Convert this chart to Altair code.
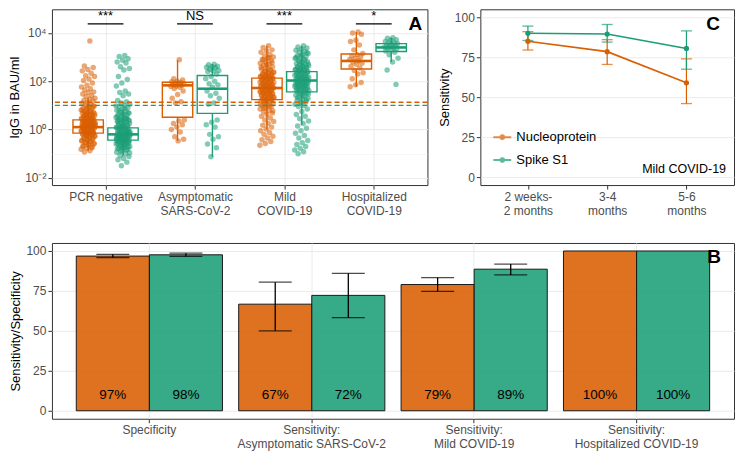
import json
import altair as alt
import pandas as pd

FONT = "Liberation Sans"
N_COL = "#D95F02"
S_COL = "#1B9E77"
antigens = ["Nucleoprotein", "Spike S1"]
colors = [N_COL, S_COL]

# ---------------- Panel A data (log10 IgG, BAU/ml) ----------------
groups_a = ["PCR negative", "Asymptomatic\nSARS-CoV-2", "Mild\nCOVID-19", "Hospitalized\nCOVID-19"]

pcr_n = [3.67, 2.63, 2.57, 2.49, 2.43, 2.33, 2.23, 2.20, 2.09, 2.03, 1.93, 1.83, 1.76, 1.69, 1.64, 1.56,
         1.53, 1.47, 1.40, 1.37, 1.30, 1.26, 1.21, 1.17, 1.12, 1.09, 1.05, 1.01, 0.97, 0.94, 0.91, 0.87,
         0.85, 0.81, 0.78, 0.76, 0.72, 0.69, 0.67, 0.64, 0.61, 0.58, 0.56, 0.53, 0.50, 0.48, 0.45, 0.43,
         0.40, 0.38, 0.35, 0.33, 0.31, 0.28, 0.26, 0.23, 0.21, 0.19, 0.16, 0.14, 0.12, 0.09, 0.07, 0.05,
         0.02, 0.00, -0.03, -0.05, -0.08, -0.10, -0.13, -0.15, -0.18, -0.21, -0.24, -0.27, -0.30, -0.33,
         -0.37, -0.41, -0.45, -0.49, -0.53, -0.57, -0.62, -0.67, -0.72, -0.77, -0.82, -0.88, -0.93,
         0.95, 0.88, 0.80, 0.74, 0.70, 0.65, 0.60, 0.57, 0.54, 0.51, 0.47, 0.44, 0.41, 0.37, 0.34, 0.32,
         0.29, 0.27, 0.24, 0.22, 0.20, 0.17, 0.15, 0.13, 0.11, 0.08, 0.06, 0.04, 0.01, -0.01, -0.04,
         -0.06, -0.09, -0.11, -0.14, -0.17, -0.19, -0.22, -0.25, -0.28, -0.31, -0.35, -0.39, -0.43,
         -0.47, -0.51, -0.55, -0.60, -0.65, -0.70, -0.75, 0.30, 0.18, 0.05, -0.02, -0.12, -0.20, 0.25,
         0.45, 0.62]
pcr_s = [3.07, 3.03, 2.93, 2.87, 2.80, 2.76, 2.60, 2.53, 2.47, 2.20, 2.07, 1.93, 1.80, 1.60, 1.53, 1.47,
         1.40, 1.20, 1.15, 1.10, 1.05, 1.00, 0.95, 0.90, 0.85, 0.80, 0.76, 0.72, 0.68, 0.64, 0.60, 0.56,
         0.53, 0.50, 0.46, 0.43, 0.40, 0.37, 0.34, 0.31, 0.28, 0.25, 0.22, 0.19, 0.16, 0.13, 0.10, 0.08,
         0.05, 0.03, 0.00, -0.02, -0.05, -0.07, -0.10, -0.12, -0.15, -0.17, -0.20, -0.22, -0.25, -0.27,
         -0.30, -0.32, -0.35, -0.37, -0.40, -0.43, -0.46, -0.49, -0.52, -0.55, -0.58, -0.62, -0.66, -0.70,
         -0.74, -0.78, -0.83, -0.88, -0.94, -1.00, -1.08, -1.12, -1.20, -1.25, -1.35, -1.50,
         0.98, 0.88, 0.78, 0.70, 0.62, 0.55, 0.48, 0.42, 0.36, 0.30, 0.24, 0.18, 0.12, 0.07, 0.02, -0.03,
         -0.08, -0.11, -0.14, -0.18, -0.21, -0.24, -0.26, -0.29, -0.31, -0.34, -0.36, -0.39, -0.42,
         -0.45, -0.48, -0.51, -0.54, -0.57, -0.60, -0.64, -0.68, -0.72, -0.76, -0.80, -0.85, -0.90,
         -0.96, -0.15, -0.25, -0.05, 0.15, -0.35, -0.45, 0.05, -0.55, -0.65, 0.35, 0.45, -0.28, -0.18]
asym_n = [2.89, 2.10, 2.05, 2.00, 1.98, 1.95, 1.92, 1.90, 1.88, 1.85, 1.82, 1.80, 1.78, 1.75, 1.70,
          1.60, 1.45, 1.30, 1.15, 1.10, 0.40, 0.35, 0.25, 0.20, 0.10, 0.00, -0.10, -0.30, -0.40, -0.47]
asym_s = [2.70, 2.68, 2.62, 2.60, 2.58, 2.55, 2.50, 2.45, 2.42, 2.40, 2.30, 2.20, 2.10, 2.00, 1.90,
          1.85, 1.75, 1.60, 1.50, 1.40, 1.30, 1.10, 1.05, 0.40, 0.30, 0.20, 0.10, -0.20, -0.30, -0.40,
          -0.60, -0.75, -1.13]
mild_n = [3.47, 3.40, 3.30, 3.25, 3.20, 3.10, 3.05, 3.00, 2.95, 2.90, 2.85, 2.80, 2.75, 2.70, 2.65,
          2.60, 2.55, 2.50, 2.46, 2.42, 2.38, 2.34, 2.30, 2.27, 2.24, 2.21, 2.18, 2.15, 2.12, 2.09,
          2.06, 2.03, 2.00, 1.97, 1.94, 1.91, 1.88, 1.85, 1.82, 1.79, 1.76, 1.73, 1.70, 1.67, 1.64,
          1.61, 1.58, 1.55, 1.52, 1.49, 1.46, 1.43, 1.40, 1.37, 1.34, 1.31, 1.28, 1.25, 1.22, 1.19,
          1.15, 1.11, 1.07, 1.03, 0.99, 0.95, 0.90, 0.85, 0.80, 0.74, 0.68, 0.62, 0.55, 0.48, 0.40,
          0.33, 0.25, 0.18, 0.10, 0.02, -0.05, -0.12, -0.20, -0.28, -0.35, -0.42, -0.50, -0.58, -0.65,
          2.98, 2.88, 2.78, 2.68, 2.58, 2.48, 2.40, 2.36, 2.32, 2.28, 2.25, 2.22, 2.19, 2.16, 2.13,
          2.10, 2.07, 2.04, 2.01, 1.98, 1.95, 1.92, 1.89, 1.86, 1.83, 1.80, 1.77, 1.74, 1.71, 1.68,
          1.65, 1.62, 1.59, 1.56, 1.53, 1.50, 1.47, 1.44, 1.41, 1.38, 1.35, 1.32, 1.29, 1.26, 1.20,
          1.13, 1.05, 0.97, 0.88, 0.78]
mild_s = [3.47, 3.42, 3.38, 3.33, 3.28, 3.24, 3.20, 3.15, 3.10, 3.06, 3.02, 2.98, 2.94, 2.90, 2.86,
          2.82, 2.78, 2.74, 2.70, 2.67, 2.64, 2.61, 2.58, 2.55, 2.52, 2.49, 2.46, 2.43, 2.40, 2.37,
          2.34, 2.31, 2.28, 2.25, 2.22, 2.19, 2.16, 2.13, 2.10, 2.07, 2.04, 2.01, 1.98, 1.95, 1.92,
          1.89, 1.86, 1.83, 1.80, 1.77, 1.74, 1.71, 1.68, 1.65, 1.62, 1.58, 1.54, 1.50, 1.46, 1.42,
          1.38, 1.34, 1.30, 1.25, 1.20, 1.15, 1.10, 1.05, 1.00, 0.95, 0.85, 0.75, 0.62, 0.55, 0.45,
          0.35, 0.25, 0.15, 0.05, -0.05, -0.15, -0.25, -0.35, -0.45, -0.55, -0.62, -0.70, -0.78,
          -0.85, -0.92, -1.00,
          3.18, 3.08, 2.98, 2.88, 2.80, 2.72, 2.66, 2.60, 2.56, 2.52, 2.48, 2.44, 2.40, 2.36, 2.32,
          2.28, 2.24, 2.20, 2.17, 2.14, 2.11, 2.08, 2.05, 2.02, 1.99, 1.96, 1.93, 1.90, 1.87, 1.84,
          1.81, 1.78, 1.75, 1.72, 1.69, 1.66, 1.62, 1.57, 1.52, 1.47, 1.40, 1.32, 1.22, 1.12]
hosp_n = [4.04, 4.00, 3.95, 3.70, 3.65, 3.50, 3.30, 3.15, 3.10, 3.05, 3.00, 2.95, 2.90, 2.85, 2.80,
          2.75, 2.70, 2.62, 2.55, 2.45, 2.35, 2.30, 2.10, 1.95, 1.85, 1.77]
hosp_s = [3.80, 3.78, 3.72, 3.70, 3.65, 3.60, 3.58, 3.55, 3.52, 3.50, 3.48, 3.45, 3.42, 3.40, 3.38,
          3.35, 3.30, 3.25, 3.20, 3.10, 2.95, 2.80, 2.47, 1.87]

# box statistics (log10): whisker low, Q1, median, Q3, whisker high — per group
box_lo_n = [-0.90, -0.47, 0.00, 1.77]
box_q1_n = [-0.15, 0.51, 1.24, 2.51]
box_med_n = [0.10, 1.83, 1.72, 2.84]
box_q3_n = [0.40, 1.96, 2.13, 3.13]
box_hi_n = [1.30, 2.87, 3.47, 4.04]
box_lo_s = [-1.10, -1.13, 0.20, 2.80]
box_q1_s = [-0.44, 0.67, 1.56, 3.23]
box_med_s = [-0.20, 1.69, 2.03, 3.40]
box_q3_s = [0.07, 2.24, 2.40, 3.56]
box_hi_s = [0.83, 2.71, 3.47, 3.80]

cutoffs = [13.5, 10.0]          # BAU/ml, Nucleoprotein / Spike S1
sig_labels = ["***", "NS", "***", "*"]

# ---------------- Panel C data ----------------
periods = ["2 weeks-\n2 months", "3-4\nmonths", "5-6\nmonths"]
sens_n = [85.0, 78.5, 59.0]
sens_n_lo = [79.5, 70.5, 46.0]
sens_n_hi = [91.0, 86.0, 74.0]
sens_s = [90.0, 89.5, 80.5]
sens_s_lo = [85.5, 84.5, 67.5]
sens_s_hi = [94.5, 95.5, 91.5]

# ---------------- Panel B data ----------------
b_cats = ["Specificity", "Sensitivity:\nAsymptomatic SARS-CoV-2", "Sensitivity:\nMild COVID-19",
          "Sensitivity:\nHospitalized COVID-19"]
b_n = [96.8, 66.7, 79.0, 100.0]
b_n_lo = [95.8, 50.0, 74.7, None]
b_n_hi = [97.9, 80.5, 83.3, None]
b_s = [97.6, 72.2, 88.6, 100.0]
b_s_lo = [96.6, 58.3, 85.0, None]
b_s_hi = [98.6, 86.0, 91.8, None]
b_n_lab = ["97%", "67%", "79%", "100%"]
b_s_lab = ["98%", "72%", "89%", "100%"]

# ---------------- sizes ----------------
W_A, W_C, H_TOP = 376, 254, 176
W_B, H_B = 683, 176
DODGE = 0.195
BOX_HALF = 0.17
JIT = 0.16

color_scale = alt.Scale(domain=antigens, range=colors)

# ---------------- Panel A ----------------
pt_rows = []
for gi, (vn, vs) in enumerate([(pcr_n, pcr_s), (asym_n, asym_s), (mild_n, mild_s), (hosp_n, hosp_s)]):
    for ag, vals in zip(antigens, [vn, vs]):
        for v in vals:
            pt_rows.append({"gi": gi, "antigen": ag, "igg": 10 ** v})
pts = pd.DataFrame(pt_rows)

box_rows = []
for gi in range(4):
    box_rows.append({"gi": gi, "antigen": antigens[0], "lo": 10 ** box_lo_n[gi], "q1": 10 ** box_q1_n[gi],
                     "med": 10 ** box_med_n[gi], "q3": 10 ** box_q3_n[gi], "hi": 10 ** box_hi_n[gi]})
    box_rows.append({"gi": gi, "antigen": antigens[1], "lo": 10 ** box_lo_s[gi], "q1": 10 ** box_q1_s[gi],
                     "med": 10 ** box_med_s[gi], "q3": 10 ** box_q3_s[gi], "hi": 10 ** box_hi_s[gi]})
boxes = pd.DataFrame(box_rows)

cut_df = pd.DataFrame({"antigen": antigens, "cut": cutoffs})
sig_df = pd.DataFrame({"gi": list(range(4)), "label": sig_labels})

y_dom = [10 ** -2.3, 10 ** 4.98]
exp_expr = "round(log(datum.value)/LN10)"
sup = {-2: "10⁻²", 0: "10⁰", 2: "10²", 4: "10⁴"}
label_expr = " : ".join([f"{exp_expr} == {k} ? '{v}'" for k, v in sup.items()]) + " : ''"
even_test = f"abs({exp_expr}) % 2 == 0"

ya_axis = alt.Axis(values=[0.01, 0.1, 1, 10, 100, 1000, 10000], labelExpr=label_expr,
                   title="IgG in BAU/ml", titlePadding=3,
                   tickOpacity={"condition": {"test": even_test, "value": 1}, "value": 0},
                   gridWidth={"condition": {"test": even_test, "value": 1}, "value": 0.5})
ya_scale = alt.Scale(type="log", domain=y_dom, nice=False)
xa_scale = alt.Scale(domain=[-0.6, 3.6], nice=False, zero=False)
xa_axis = alt.Axis(values=[0, 1, 2, 3], title=None, labelExpr=f"split({json.dumps(groups_a)}[datum.value], '\\n')",
                   labelAngle=0, gridWidth=1)

dodge_expr = f"datum.gi + (datum.antigen == '{antigens[0]}' ? -{DODGE} : {DODGE})"
base_box = alt.Chart(boxes).transform_calculate(
    xc=dodge_expr, xl=f"{dodge_expr} - {BOX_HALF}", xr=f"{dodge_expr} + {BOX_HALF}")

box_rect = base_box.mark_bar(fill="white", strokeWidth=1.4).encode(
    x=alt.X("xl:Q", scale=xa_scale, axis=xa_axis), x2="xr:Q",
    y=alt.Y("q1:Q", scale=ya_scale, axis=ya_axis), y2="q3:Q",
    stroke=alt.Color("antigen:N", scale=color_scale, legend=None))
whisk_lo = base_box.mark_rule(strokeWidth=1.4).encode(
    x="xc:Q", y="lo:Q", y2="q1:Q", color=alt.Color("antigen:N", scale=color_scale, legend=None))
whisk_hi = base_box.mark_rule(strokeWidth=1.4).encode(
    x="xc:Q", y="q3:Q", y2="hi:Q", color=alt.Color("antigen:N", scale=color_scale, legend=None))
median = base_box.mark_rule(strokeWidth=2.6).encode(
    x="xl:Q", x2="xr:Q", y="med:Q", color=alt.Color("antigen:N", scale=color_scale, legend=None))

points = alt.Chart(pts).transform_window(
    idx="row_number()", groupby=["gi", "antigen"]
).transform_calculate(
    xp=f"{dodge_expr} + ((datum.idx * 0.618034) % 1 - 0.5) * {JIT}"
).mark_circle(size=30, opacity=0.55).encode(
    x="xp:Q", y="igg:Q", color=alt.Color("antigen:N", scale=color_scale, legend=None))

cut_rule = alt.Chart(cut_df).mark_rule(strokeDash=[5, 3], strokeWidth=1.3).encode(
    y="cut:Q", color=alt.Color("antigen:N", scale=color_scale, legend=None))

sig_base = alt.Chart(sig_df).transform_calculate(
    xl="datum.gi - 0.2", xr="datum.gi + 0.2", yl=f"{10 ** 4.38}", yt=f"{10 ** 4.72}")
sig_rule = sig_base.mark_rule(color="black", strokeWidth=1.2).encode(x="xl:Q", x2="xr:Q", y="yl:Q")
sig_text = sig_base.mark_text(fontSize=13, font=FONT, color="black", baseline="middle").encode(
    x="gi:Q", y="yt:Q", text="label:N")

tag_a = alt.Chart(pd.DataFrame({"t": ["A"]})).mark_text(
    fontSize=19, fontWeight="bold", font=FONT, color="black", baseline="middle").encode(
    text="t:N", x=alt.value(W_A - 12), y=alt.value(15))

panel_a = alt.layer(box_rect, whisk_lo, whisk_hi, median, points, cut_rule, sig_rule, sig_text, tag_a
                    ).properties(width=W_A, height=H_TOP)

# ---------------- Panel C ----------------
c_rows = []
for i, p in enumerate(periods):
    c_rows.append({"period": p, "antigen": antigens[0], "sens": sens_n[i], "lo": sens_n_lo[i], "hi": sens_n_hi[i]})
    c_rows.append({"period": p, "antigen": antigens[1], "sens": sens_s[i], "lo": sens_s_lo[i], "hi": sens_s_hi[i]})
c_df = pd.DataFrame(c_rows)

lin_vals = [0, 12.5, 25, 37.5, 50, 62.5, 75, 87.5, 100]
major_test = "datum.value % 25 == 0"
lin_axis = dict(values=lin_vals, labelExpr=f"{major_test} ? datum.label : ''",
                tickOpacity={"condition": {"test": major_test, "value": 1}, "value": 0},
                gridWidth={"condition": {"test": major_test, "value": 1}, "value": 0.5},
                titlePadding=3)
y_lin = alt.Scale(domain=[-5, 105], nice=False)

legend_symbol = "M-1,0H1M0.2,0A0.2,0.2,0,1,1,-0.2,0A0.2,0.2,0,1,1,0.2,0"
c_legend = alt.Legend(title=None, orient="none", legendX=12, legendY=118,
                      symbolType=legend_symbol, symbolStrokeWidth=2, symbolSize=320,
                      labelFontSize=13, labelColor="black", labelFont=FONT, rowPadding=6)
c_color = alt.Color("antigen:N", scale=color_scale, legend=c_legend)

xc = alt.X("period:N", sort=periods, scale=alt.Scale(type="point", padding=0.6),
           axis=alt.Axis(title=None, labelAngle=0, labelExpr="split(datum.label, '\\n')", gridWidth=1))
cbase = alt.Chart(c_df)
c_line = cbase.mark_line(strokeWidth=1.6).encode(
    x=xc, y=alt.Y("sens:Q", scale=y_lin, axis=alt.Axis(title="Sensitivity", **lin_axis)),
    color=c_color)
c_pts = cbase.mark_circle(size=28, opacity=1).encode(x=xc, y="sens:Q", color=c_color)
c_err = cbase.mark_rule(strokeWidth=1.2).encode(x=xc, y="lo:Q", y2="hi:Q", color=c_color)
c_cap_lo = cbase.mark_tick(size=11, thickness=1.3).encode(x=xc, y="lo:Q", color=c_color)
c_cap_hi = cbase.mark_tick(size=11, thickness=1.3).encode(x=xc, y="hi:Q", color=c_color)
c_note = alt.Chart(pd.DataFrame({"t": ["Mild COVID-19"]})).mark_text(
    fontSize=12.5, font=FONT, color="black", align="right", baseline="middle").encode(
    text="t:N", x=alt.value(W_C - 8), y=alt.value(H_TOP - 16))
tag_c = alt.Chart(pd.DataFrame({"t": ["C"]})).mark_text(
    fontSize=19, fontWeight="bold", font=FONT, color="black", baseline="middle").encode(
    text="t:N", x=alt.value(W_C - 21), y=alt.value(15))

panel_c = alt.layer(c_line, c_err, c_cap_lo, c_cap_hi, c_pts, c_note, tag_c).properties(width=W_C, height=H_TOP)

# ---------------- Panel B ----------------
b_rows = []
for i, cat in enumerate(b_cats):
    b_rows.append({"cat": cat, "antigen": antigens[0], "val": b_n[i], "lo": b_n_lo[i], "hi": b_n_hi[i], "lab": b_n_lab[i]})
    b_rows.append({"cat": cat, "antigen": antigens[1], "val": b_s[i], "lo": b_s_lo[i], "hi": b_s_hi[i], "lab": b_s_lab[i]})
b_df = pd.DataFrame(b_rows)

xb = alt.X("cat:N", sort=b_cats, scale=alt.Scale(paddingInner=0, paddingOuter=0.1),
           axis=alt.Axis(title=None, labelAngle=0, labelExpr="split(datum.label, '\\n')", grid=True,
                         bandPosition=0.5, gridWidth=1))
xob = alt.XOffset("antigen:N", sort=antigens, scale=alt.Scale(paddingInner=0, paddingOuter=0.111))
bbase = alt.Chart(b_df)
b_bars = bbase.mark_bar(fillOpacity=0.88, stroke="#1a1a1a", strokeWidth=1).encode(
    x=xb, xOffset=xob,
    y=alt.Y("val:Q", scale=y_lin, axis=alt.Axis(title="Sensitivity/Specificity", **lin_axis)),
    fill=alt.Fill("antigen:N", scale=color_scale, legend=None))
b_errbase = bbase.transform_filter("isValid(datum.lo)")
b_err = b_errbase.mark_rule(color="black", strokeWidth=1.3).encode(x=xb, xOffset=xob, y="lo:Q", y2="hi:Q")
b_cap_lo = b_errbase.mark_tick(color="black", size=33, thickness=1.3).encode(x=xb, xOffset=xob, y="lo:Q")
b_cap_hi = b_errbase.mark_tick(color="black", size=33, thickness=1.3).encode(x=xb, xOffset=xob, y="hi:Q")
b_text = bbase.mark_text(fontSize=13.5, font=FONT, color="black", baseline="middle").encode(
    x=xb, xOffset=xob, y=alt.datum(10), text="lab:N")
tag_b = alt.Chart(pd.DataFrame({"t": ["B"]})).mark_text(
    fontSize=19, fontWeight="bold", font=FONT, color="black", baseline="middle").encode(
    text="t:N", x=alt.value(W_B - 20), y=alt.value(14))

panel_b = alt.layer(b_bars, b_err, b_cap_lo, b_cap_hi, b_text, tag_b).properties(width=W_B, height=H_B)

top = alt.hconcat(panel_a, panel_c, spacing=8).resolve_legend(color="independent", stroke="independent")
chart = alt.vconcat(top, panel_b, spacing=25).resolve_legend(
    color="independent", fill="independent", stroke="independent"
).properties(padding=0).configure(font=FONT).configure_view(
    stroke="#333333", strokeWidth=1
).configure_axis(
    labelFont=FONT, titleFont=FONT, labelColor="#4D4D4D", labelFontSize=12, titleFontSize=13,
    titleColor="black", titleFontWeight="normal", tickColor="#333333", tickSize=4, domain=False,
    gridColor="#EBEBEB", labelPadding=2
)

chart.save("out.html", embed_options={"renderer": "svg", "actions": False})
